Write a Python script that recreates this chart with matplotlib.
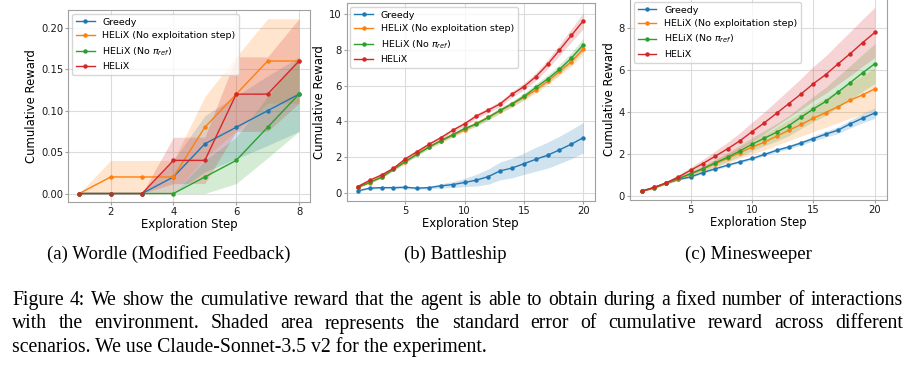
import matplotlib
matplotlib.use("Agg")
import matplotlib.pyplot as plt
import numpy as np
from matplotlib.transforms import IdentityTransform

# ---------------- data ----------------
labels = ["Greedy", "HELiX (No exploitation step)", r"HELiX (No $\pi_{ref}$)", "HELiX"]
colors = ["#1f77b4", "#ff7f0e", "#2ca02c", "#d62728"]

# (a) Wordle (Modified Feedback)
steps_a = [1, 2, 3, 4, 5, 6, 7, 8]
wordle_greedy = [0.0, 0.0, 0.0, 0.02, 0.06, 0.08, 0.10, 0.12]
wordle_noexp = [0.0, 0.02, 0.02, 0.02, 0.08, 0.12, 0.16, 0.16]
wordle_noref = [0.0, 0.0, 0.0, 0.0, 0.02, 0.04, 0.08, 0.12]
wordle_helix = [0.0, 0.0, 0.0, 0.04, 0.04, 0.12, 0.12, 0.16]
wordle_greedy_se = [0.0, 0.0, 0.0, 0.02, 0.034, 0.038, 0.042, 0.045]
wordle_noexp_se = [0.0, 0.02, 0.02, 0.02, 0.037, 0.045, 0.051, 0.051]
wordle_noref_se = [0.0, 0.0, 0.0, 0.0, 0.02, 0.028, 0.037, 0.045]
wordle_helix_se = [0.0, 0.0, 0.0, 0.028, 0.028, 0.045, 0.045, 0.051]

# (b) Battleship
steps_b = list(range(1, 21))
bship_greedy = [0.10, 0.25, 0.28, 0.28, 0.30, 0.25, 0.28, 0.38, 0.45, 0.57,
                0.70, 0.90, 1.22, 1.38, 1.62, 1.87, 2.10, 2.40, 2.72, 3.08]
bship_noexp = [0.30, 0.55, 0.90, 1.30, 1.70, 2.20, 2.58, 2.88, 3.22, 3.52,
               3.88, 4.22, 4.60, 4.95, 5.35, 5.75, 6.25, 6.80, 7.35, 8.05]
bship_noref = [0.30, 0.58, 0.85, 1.30, 1.75, 2.15, 2.55, 2.92, 3.25, 3.60,
               3.85, 4.22, 4.62, 4.98, 5.40, 5.90, 6.38, 6.92, 7.55, 8.30]
bship_helix = [0.34, 0.69, 0.99, 1.36, 1.89, 2.30, 2.71, 3.08, 3.50, 3.86,
               4.30, 4.63, 4.98, 5.52, 5.95, 6.50, 7.20, 8.00, 8.82, 9.64]
bship_greedy_se = [0.04, 0.05, 0.06, 0.06, 0.07, 0.07, 0.08, 0.12, 0.17, 0.23,
                   0.33, 0.43, 0.50, 0.55, 0.60, 0.67, 0.73, 0.77, 0.82, 0.86]
bship_noexp_se = [0.04, 0.05, 0.06, 0.07, 0.08, 0.09, 0.10, 0.10, 0.11, 0.12,
                  0.12, 0.13, 0.14, 0.15, 0.16, 0.18, 0.20, 0.23, 0.26, 0.30]
bship_noref_se = [0.04, 0.05, 0.06, 0.07, 0.08, 0.09, 0.10, 0.10, 0.11, 0.12,
                  0.13, 0.14, 0.15, 0.16, 0.18, 0.20, 0.23, 0.27, 0.31, 0.35]
bship_helix_se = [0.05, 0.06, 0.07, 0.08, 0.09, 0.10, 0.10, 0.11, 0.11, 0.12,
                  0.13, 0.14, 0.15, 0.16, 0.18, 0.21, 0.25, 0.30, 0.37, 0.45]

# (c) Minesweeper
steps_c = list(range(1, 21))
mine_greedy = [0.22, 0.40, 0.59, 0.78, 0.90, 1.11, 1.29, 1.46, 1.62, 1.78,
               1.97, 2.17, 2.33, 2.52, 2.73, 2.94, 3.13, 3.43, 3.70, 3.95]
mine_noexp = [0.22, 0.36, 0.59, 0.81, 1.03, 1.27, 1.54, 1.78, 2.06, 2.32,
              2.56, 2.84, 3.13, 3.40, 3.70, 3.97, 4.25, 4.56, 4.81, 5.10]
mine_noref = [0.22, 0.38, 0.62, 0.83, 1.06, 1.30, 1.57, 1.84, 2.14, 2.46,
              2.75, 3.03, 3.35, 3.75, 4.14, 4.50, 4.95, 5.40, 5.86, 6.30]
mine_helix = [0.22, 0.40, 0.62, 0.90, 1.22, 1.54, 1.89, 2.24, 2.62, 3.06,
              3.48, 3.94, 4.40, 4.86, 5.35, 5.78, 6.29, 6.78, 7.30, 7.79]
mine_greedy_se = [0.02, 0.02, 0.03, 0.03, 0.04, 0.04, 0.05, 0.05, 0.06, 0.06,
                  0.07, 0.08, 0.09, 0.10, 0.12, 0.14, 0.16, 0.19, 0.22, 0.25]
mine_noexp_se = [0.02, 0.03, 0.05, 0.07, 0.10, 0.14, 0.18, 0.22, 0.27, 0.32,
                 0.37, 0.43, 0.49, 0.56, 0.63, 0.70, 0.77, 0.85, 0.92, 1.00]
mine_noref_se = [0.02, 0.03, 0.05, 0.07, 0.10, 0.13, 0.17, 0.21, 0.26, 0.31,
                 0.36, 0.42, 0.48, 0.54, 0.60, 0.67, 0.74, 0.81, 0.88, 0.95]
mine_helix_se = [0.02, 0.04, 0.06, 0.10, 0.15, 0.20, 0.25, 0.31, 0.38, 0.45,
                 0.52, 0.59, 0.66, 0.74, 0.82, 0.89, 0.97, 1.05, 1.12, 1.20]

subcaptions = ["(a) Wordle (Modified Feedback)", "(b) Battleship", "(c) Minesweeper"]
caption_lines = [
    "Figure 4: We show the cumulative reward that the agent is able to obtain during a fixed number of interactions",
    "with the environment.  Shaded area represents the standard error of cumulative reward across different",
    "scenarios. We use Claude-Sonnet-3.5 v2 for the experiment.",
]

# ---------------- figure ----------------
W, H = 913, 368
fig = plt.figure(figsize=(W / 100, H / 100), dpi=100)

def px_axes(l, t, r, b):
    return fig.add_axes([l / W, 1 - b / H, (r - l) / W, (b - t) / H])

panels = [
    dict(rect=(68.3, 10, 310, 202.3), x=steps_a,
         ys=[wordle_greedy, wordle_noexp, wordle_noref, wordle_helix],
         ses=[wordle_greedy_se, wordle_noexp_se, wordle_noref_se, wordle_helix_se],
         xlim=(0.65, 8.35), ylim=(-0.0106, 0.2216),
         xticks=[2, 4, 6, 8], yticks=[0.0, 0.05, 0.10, 0.15, 0.20], yfmt="{:.2f}"),
    dict(rect=(346.5, 3, 594.5, 201), x=steps_b,
         ys=[bship_greedy, bship_noexp, bship_noref, bship_helix],
         ses=[bship_greedy_se, bship_noexp_se, bship_noref_se, bship_helix_se],
         xlim=(0.05, 20.95), ylim=(-0.47, 10.64),
         xticks=[5, 10, 15, 20], yticks=[0, 2, 4, 6, 8, 10], yfmt="{:.0f}"),
    dict(rect=(630, -2, 886.5, 200), x=steps_c,
         ys=[mine_greedy, mine_noexp, mine_noref, mine_helix],
         ses=[mine_greedy_se, mine_noexp_se, mine_noref_se, mine_helix_se],
         xlim=(0.05, 20.95), ylim=(-0.2, 9.43),
         xticks=[5, 10, 15, 20], yticks=[0, 2, 4, 6, 8], yfmt="{:.0f}"),
]

spine_col = "#a0a0a0"
for p in panels:
    ax = px_axes(*p["rect"])
    x = np.array(p["x"])
    for lab, col, y, se in zip(labels, colors, p["ys"], p["ses"]):
        y = np.array(y); se = np.array(se)
        ax.fill_between(x, y - se, y + se, color=col, alpha=0.2, linewidth=0)
        ax.plot(x, y, color=col, linewidth=1.0, marker="o", markersize=2.2, label=lab)
    ax.set_xlim(*p["xlim"]); ax.set_ylim(*p["ylim"])
    ax.set_xticks(p["xticks"])
    ax.set_yticks(p["yticks"])
    ax.set_yticklabels([p["yfmt"].format(v) for v in p["yticks"]])
    ax.grid(True, color="#dcdcdc", linewidth=0.8)
    ax.set_axisbelow(True)
    for s in ax.spines.values():
        s.set_color(spine_col); s.set_linewidth(0.8)
    ax.tick_params(colors=spine_col, labelcolor="#1a1a1a", labelsize=7.2,
                   length=2.5, width=0.8, pad=1.2)
    ax.set_xlabel("Exploration Step", fontsize=8.4, labelpad=0.5)
    ax.set_ylabel("Cumulative Reward", fontsize=8.4, labelpad=2)
    ax.legend(loc="upper left", fontsize=6.8, framealpha=0.8, borderaxespad=0.4)

# subcaptions
serif = "Liberation Serif"
for txt, cx in zip(subcaptions, [168.5, 455, 748]):
    fig.text(cx, H - 259, txt, fontsize=13.5, family=serif, ha="center", va="baseline",
             transform=IdentityTransform())

# caption with justification
fig.canvas.draw()
renderer = fig.canvas.get_renderer()
x0, x1 = 12, 903
baselines = [305, 328.5, 352]
cap_fs = 14.2
for i, (line, yb) in enumerate(zip(caption_lines, baselines)):
    if i < len(caption_lines) - 1:
        words = line.split()
        ts = [fig.text(0, H - yb, w, fontsize=cap_fs, family=serif, va="baseline",
                       transform=IdentityTransform()) for w in words]
        widths = [t.get_window_extent(renderer).width for t in ts]
        gap = (x1 - x0 - sum(widths)) / (len(words) - 1)
        xc = x0
        for t, wd in zip(ts, widths):
            t.set_x(xc)
            xc += wd + gap
    else:
        fig.text(x0, H - yb, line, fontsize=cap_fs, family=serif, va="baseline",
                 transform=IdentityTransform())

fig.savefig("out.png", dpi=100)
